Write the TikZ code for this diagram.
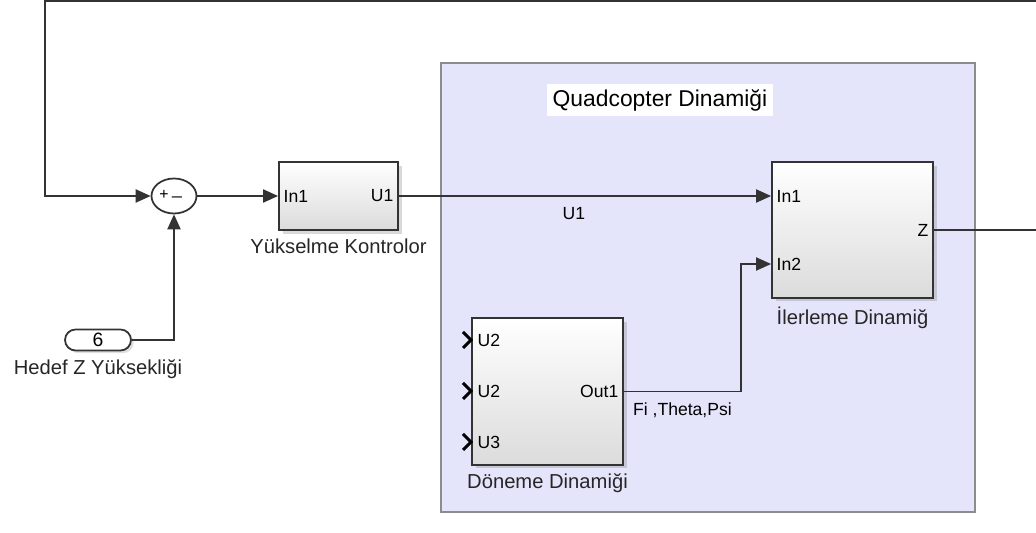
\documentclass[tikz,border=0pt]{standalone}
\usepackage{fontspec}
\setmainfont{Liberation Sans}
\usepackage{tikz}
\usetikzlibrary{arrows.meta, calc, shapes.geometric, shadows}

\definecolor{subfill}{HTML}{E4E4FA}
\definecolor{subline}{HTML}{8C8C8C}
\definecolor{sigline}{HTML}{333333}

\tikzset{
  blk/.style={draw=black!80, line width=1.1pt, shade, top color=white, bottom color=black!14,
    drop shadow={shadow xshift=2.5pt, shadow yshift=-2pt, opacity=0.3}},
  port/.style={font=\fontsize{10}{12}\selectfont, inner sep=3pt},
  lbl/.style={font=\fontsize{11.5}{13}\selectfont, text=black!85},
  sig/.style={draw=sigline, line width=0.8pt, -{Triangle[length=8.5pt,width=7.5pt]}},
  wire/.style={draw=sigline, line width=0.8pt},
}

\begin{document}
\begin{tikzpicture}[x=0.02cm, y=-0.02cm]
\useasboundingbox (0,0) rectangle (1036,533);
% Quadcopter subsystem area
\draw[subline, fill=subfill, line width=1pt] (441,63) rectangle (975,512);
\node[fill=white, font=\fontsize{13}{15}\selectfont, inner sep=3pt] (title) at (660,100) {Quadcopter Dinamiği};
% blocks
\node[ellipse, draw=black!80, line width=1pt, fill=white, minimum width=0.9cm, minimum height=0.7cm, inner sep=0pt] (sum) at (174,196) {};
\node[font=\fontsize{9}{10}\selectfont] at (164,195) {+};
\node[font=\fontsize{10}{10}\selectfont] at (177,196) {\_};
\node[blk, minimum width=2.38cm, minimum height=1.36cm] (yk) at (338.5,196) {};
\node[port, anchor=west] at (yk.west) {In1};
\node[port, anchor=east] at (yk.east) {U1};
\node[lbl, below=1pt] at (yk.south) {Yükselme Kontrolor};
\node[blk, minimum width=3.22cm, minimum height=2.72cm] (il) at (852.5,230) {};
\coordinate (il-in1) at ($(il.west)+(0,-34)$);
\coordinate (il-in2) at ($(il.west)+(0,34)$);
\node[port, anchor=west] at (il-in1) {In1};
\node[port, anchor=west] at (il-in2) {In2};
\node[port, anchor=east] at (il.east) {Z};
\node[lbl, below=1pt] at (il.south) {İlerleme Dinamiğ};
\node[blk, minimum width=3.02cm, minimum height=2.94cm] (dn) at (547.5,391.5) {};
\foreach \y/\t in {340/U2, 391/U2, 442/U3} {
  \draw[black, line width=1.8pt] (463,\y-8) -- (471,\y) -- (463,\y+8);
  \node[port, anchor=west] at (472,\y) {\t};
}
\node[port, anchor=east] at (dn.east) {Out1};
\node[lbl, below=1pt] at (dn.south) {Döneme Dinamiği};
\node[draw=black!80, line width=1pt, fill=white, rounded corners=0.21cm, minimum width=1.32cm, minimum height=0.42cm, inner sep=0pt, font=\fontsize{11}{12}\selectfont,
  drop shadow={shadow xshift=1.5pt, shadow yshift=-1.5pt, opacity=0.25}] (hz) at (98,340) {6};
\node[lbl, below=1pt] at (hz.south) {Hedef Z Yüksekliği};
% connectors
\coordinate (fbr) at (1036,1);
\coordinate (fbl) at (45,1);
\coordinate (zout) at (1036,230);
\draw[sig] (fbr) -- (fbl) |- (sum.west);
\draw[sig] (hz.east) -| (sum.south);
\draw[sig] (sum.east) -- (yk.west);
\draw[sig] (yk.east) -- (il-in1) node[pos=0.47, below=3pt, port] {U1};
\draw[sig] (dn.east) -- ++(117,0) node[pos=0.5, below=3pt, port] {Fi ,Theta,Psi} |- (il-in2);
\draw[wire] (il.east) -- (zout);
\end{tikzpicture}
\end{document}
